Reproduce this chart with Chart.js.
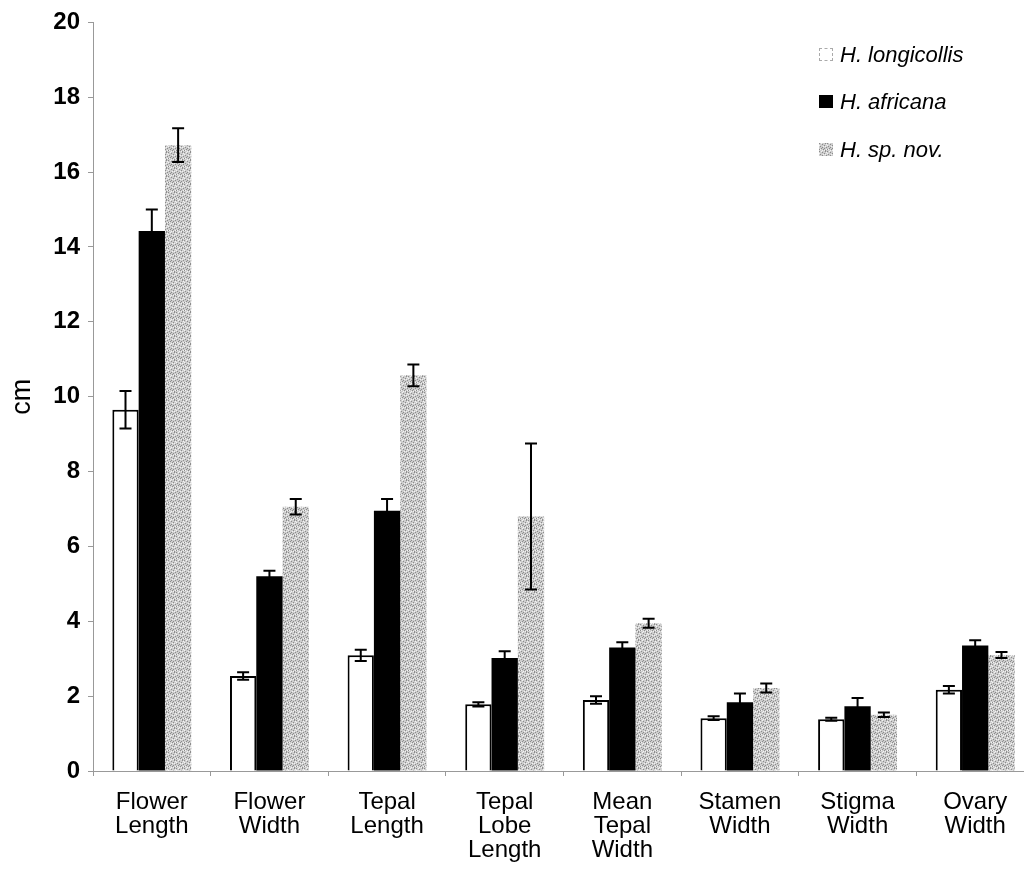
<!DOCTYPE html>
<html><head><meta charset="utf-8">
<script src="https://cdn.jsdelivr.net/npm/chart.js@4"></script>
<style>
html,body{margin:0;padding:0;background:#fff;overflow:hidden;width:1024px;height:869px;}
#wrap{position:absolute;left:0;top:0;width:1034px;height:869px;}
#legend{position:absolute;left:819px;top:0;font-family:"Liberation Sans",Arial,sans-serif;font-style:italic;font-size:22px;color:#000;}
.row{position:absolute;left:0;white-space:nowrap;height:26px;line-height:26px;}
.sw{position:absolute;left:0;top:6px;width:14px;height:13px;box-sizing:border-box;}
.lbl{position:absolute;left:21px;top:0;}
</style>
</head><body>
<div id="wrap"><canvas id="c" width="1034" height="869"></canvas></div>
<div id="legend"></div>
<script>
const categories = [["Flower","Length"],["Flower","Width"],["Tepal","Length"],["Tepal","Lobe","Length"],["Mean","Tepal","Width"],["Stamen","Width"],["Stigma","Width"],["Ovary","Width"]];
const seriesNames = ["H. longicollis","H. africana","H. sp. nov."];
const longicollis    = [9.65, 2.54, 3.09, 1.78, 1.90, 1.41, 1.38, 2.17];
const longicollisErr = [0.50, 0.10, 0.15, 0.06, 0.10, 0.05, 0.04, 0.10];
const africana       = [14.43, 5.20, 6.95, 3.02, 3.30, 1.84, 1.73, 3.35];
const africanaErr    = [0.57, 0.15, 0.32, 0.18, 0.14, 0.23, 0.22, 0.14];
const spnov          = [16.72, 7.06, 10.57, 6.80, 3.95, 2.22, 1.50, 3.10];
const spnovErr       = [0.45, 0.21, 0.29, 1.95, 0.12, 0.12, 0.06, 0.08];
const yTicks = [0,2,4,6,8,10,12,14,16,18,20];

// stipple pattern for the grey series
function makePattern(){
  const p = document.createElement('canvas'); p.width = 8; p.height = 8;
  const g = p.getContext('2d');
  g.fillStyle = '#cdcdcd'; g.fillRect(0,0,8,8);
  const dark = [[0,0],[3,1],[6,0],[1,3],[5,2],[7,4],[2,5],[4,6],[0,6],[6,7],[3,4],[5,5]];
  const light = [[2,0],[7,1],[0,2],[4,3],[6,3],[1,6],[3,7],[7,6],[5,7]];
  g.fillStyle = '#8c8c8c'; dark.forEach(([x,y])=>g.fillRect(x,y,1,1));
  g.fillStyle = '#f2f2f2'; light.forEach(([x,y])=>g.fillRect(x,y,1,1));
  return p;
}
const patCanvas = makePattern();
const ctx0 = document.getElementById('c').getContext('2d');
const greyPattern = ctx0.createPattern(patCanvas,'repeat');

const errBars = {
  id:'errBars',
  afterDatasetsDraw(chart){
    const ctx = chart.ctx, y = chart.scales.y;
    chart.data.datasets.forEach((ds,i)=>{
      const meta = chart.getDatasetMeta(i);
      meta.data.forEach((bar,j)=>{
        const v = ds.data[j], e = ds.errors[j];
        const x = bar.x, yt = y.getPixelForValue(v+e), yb = y.getPixelForValue(v-e);
        ctx.save(); ctx.strokeStyle='#000'; ctx.lineWidth=2;
        ctx.beginPath();
        ctx.moveTo(x,yt); ctx.lineTo(x,yb);
        ctx.moveTo(x-6,yt); ctx.lineTo(x+6,yt);
        ctx.moveTo(x-6,yb); ctx.lineTo(x+6,yb);
        ctx.stroke(); ctx.restore();
      });
    });
  }
};

const font = "'Liberation Sans', Arial, Helvetica, sans-serif";
new Chart(ctx0, {
  type:'bar',
  data:{
    labels: categories,
    datasets:[
      {label:seriesNames[0], data:longicollis, errors:longicollisErr, backgroundColor:'#ffffff', borderColor:'#000', borderWidth:{top:2,left:2,right:2,bottom:0}, borderSkipped:'bottom'},
      {label:seriesNames[1], data:africana, errors:africanaErr, backgroundColor:'#000000', borderWidth:0},
      {label:seriesNames[2], data:spnov, errors:spnovErr, backgroundColor:greyPattern, borderWidth:0}
    ]
  },
  options:{
    responsive:false, animation:false,
    layout:{padding:{top:20,left:0,right:0,bottom:0}},
    datasets:{bar:{categoryPercentage:0.671, barPercentage:1.0}},
    plugins:{legend:{display:false}, tooltip:{enabled:false}},
    scales:{
      x:{
        grid:{display:true, drawOnChartArea:false, drawTicks:true, tickLength:5, color:'#999', offset:true},
        border:{display:true, color:'#999', dash:[2,2], width:1},
        ticks:{color:'#000', font:{family:font, size:24, lineHeight:1.0}, padding:14, maxRotation:0, autoSkip:false},
        afterFit(s){ s.height = 98; }
      },
      y:{
        min:0, max:20,
        afterBuildTicks(s){ s.ticks = yTicks.map(v=>({value:v})); },
        grid:{display:true, drawOnChartArea:false, drawTicks:true, tickLength:5, color:'#999'},
        border:{display:true, color:'#999', dash:[2,2], width:1},
        ticks:{color:'#000', font:{family:font, size:24, weight:'bold'}, padding:8},
        title:{display:true, text:'cm', color:'#000', font:{family:font, size:27}, padding:{top:6,bottom:0}},
        afterFit(s){ s.width = 93; }
      }
    }
  },
  plugins:[errBars]
});

// legend (HTML)
const legend = document.getElementById('legend');
const swStyles = [
  'background:#fff;border:1px dashed #aaa;',
  'background:#000;',
  'background-image:url('+patCanvas.toDataURL()+');'
];
const rowTops = [42, 89, 137];
seriesNames.forEach((n,i)=>{
  const r = document.createElement('div'); r.className='row'; r.style.top = rowTops[i]+'px';
  r.innerHTML = '<span class="sw" style="'+swStyles[i]+'"></span><span class="lbl">'+n+'</span>';
  legend.appendChild(r);
});
</script>
</body></html>
